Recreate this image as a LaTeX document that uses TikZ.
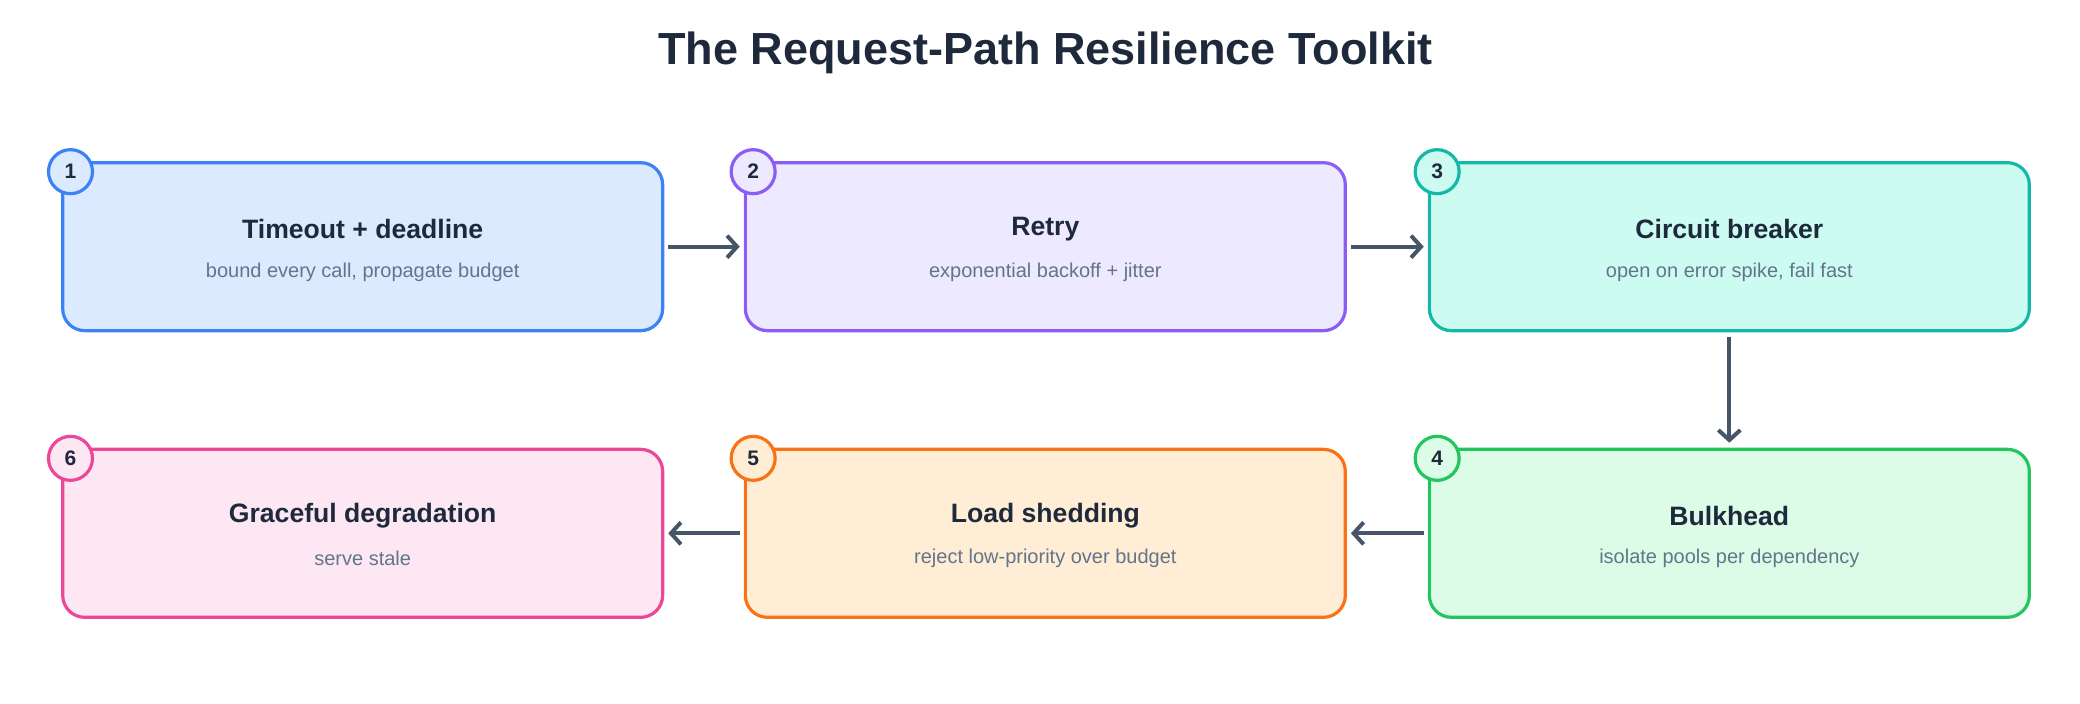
\documentclass[tikz,border=0pt]{standalone}
\usepackage{fontspec}
\setmainfont{Liberation Sans}
\usetikzlibrary{positioning,arrows.meta}
\definecolor{ink}{HTML}{1E293B}
\definecolor{muted}{HTML}{64748B}
\definecolor{slate}{HTML}{475569}
\definecolor{cblue}{HTML}{3B82F6}\definecolor{fblue}{HTML}{DBEAFE}
\definecolor{cpurple}{HTML}{8B5CF6}\definecolor{fpurple}{HTML}{EDE9FE}
\definecolor{cteal}{HTML}{14B8A6}\definecolor{fteal}{HTML}{CCFBF1}
\definecolor{cgreen}{HTML}{22C55E}\definecolor{fgreen}{HTML}{DCFCE7}
\definecolor{corange}{HTML}{F97316}\definecolor{forange}{HTML}{FFEDD5}
\definecolor{cpink}{HTML}{EC4899}\definecolor{fpink}{HTML}{FCE7F3}

\begin{document}
\begin{tikzpicture}[x=0.6667pt,y=-0.6667pt,
	stage/.style={draw=c#1,fill=f#1,line width=1.6pt,rounded corners=11pt,
		minimum width=300pt,minimum height=84pt},
	badge/.style={circle,draw=c#1,fill=f#1,line width=1.6pt,minimum size=22pt,
		inner sep=0pt,font=\bfseries\fontsize{10.5}{12}\selectfont,text=ink},
	heading/.style={font=\bfseries\fontsize{13.3}{15}\selectfont,text=ink},
	note/.style={font=\fontsize{10}{12}\selectfont,text=muted},
	flow/.style={draw=slate,line width=2pt,-{Straight Barb[length=5pt,width=11pt]}}]
	\useasboundingbox (0,0) rectangle (1560,528);
	\node[font=\bfseries\fontsize{22.5}{26}\selectfont,text=ink] (title) at (784,40) {The Request-Path Resilience Toolkit};

	%% stages
	\node[stage=blue] (s1) at (272,185) {};
	\node[stage=purple] (s2) at (784,185) {};
	\node[stage=teal] (s3) at (1297,185) {};
	\node[stage=green] (s4) at (1297,400) {};
	\node[stage=orange] (s5) at (784,400) {};
	\node[stage=pink] (s6) at (272,400) {};

	\foreach \s/\t/\d in {s1/Timeout + deadline/{bound every call, propagate budget},
		s2/Retry/exponential backoff + jitter,
		s3/Circuit breaker/{open on error spike, fail fast},
		s4/Bulkhead/isolate pools per dependency,
		s5/Load shedding/reject low-priority over budget,
		s6/Graceful degradation/serve stale / partial results}{
		\node[heading] (\s-t) at ([yshift=8.7pt]\s.center) {\t};
		\node[note] (\s-d) at ([yshift=-12.7pt]\s.center) {\d};
	}

	\foreach \s/\c/\n in {s1/blue/1,s2/purple/2,s3/teal/3,s4/green/4,s5/orange/5,s6/pink/6}
		\node[badge=\c] (\s-b) at ([xshift=4.7pt,yshift=-5.3pt]\s.north west) {\n};

	%% connectors
	\draw[flow,shorten <=2pt,shorten >=2pt] (s1) -- (s2);
	\draw[flow,shorten <=2pt,shorten >=2pt] (s2) -- (s3);
	\draw[flow,shorten <=2.5pt,shorten >=2.5pt] (s3) -- (s4);
	\draw[flow,shorten <=2pt,shorten >=2pt] (s4) -- (s5);
	\draw[flow,shorten <=2pt,shorten >=2pt] (s5) -- (s6);
\end{tikzpicture}
\end{document}
